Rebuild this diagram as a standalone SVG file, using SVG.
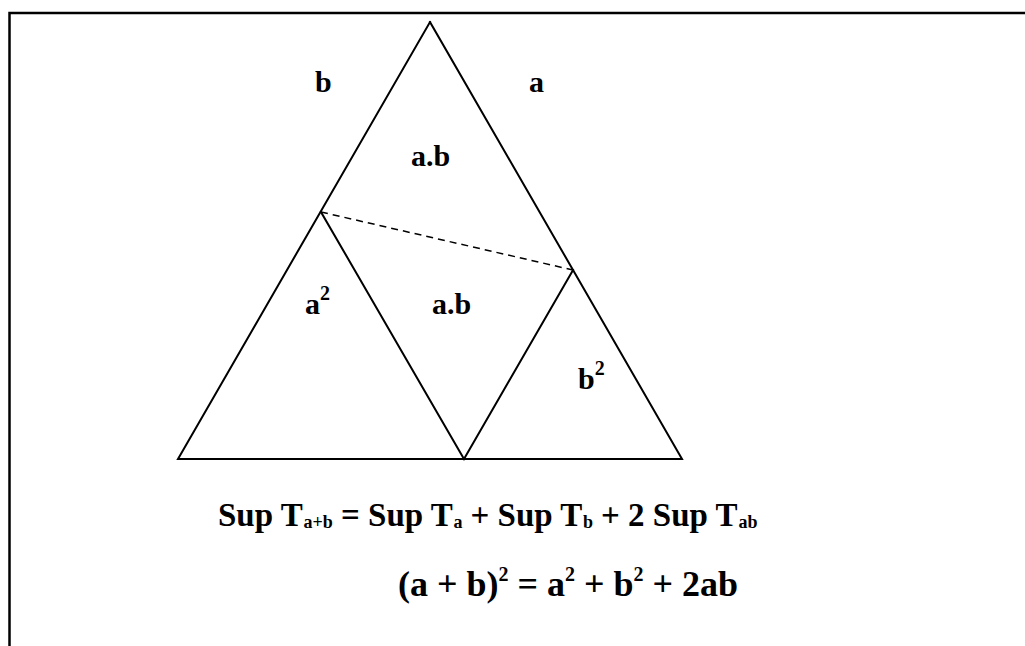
<svg xmlns="http://www.w3.org/2000/svg" width="1025" height="646" viewBox="0 0 1025 646">
<style>
.ln{stroke:#000;stroke-width:2;fill:none;stroke-linecap:square}
.t{font-family:"Liberation Serif","Times New Roman",serif;font-weight:bold;fill:#000}
.lbl{font-size:30px}
.eq{font-size:33px}
.eq2{font-size:36px}
.sub{font-size:18px}
.sup{font-size:20px}
</style>
<rect width="1025" height="646" fill="#fff"/>
<path id="frame" d="M9.5 646 V13 H1025" stroke="#000" stroke-width="2.5" fill="none"/>
<g id="connectors">
<path class="ln" d="M430 22 L178 459 L464 459"/>
<path class="ln" d="M430 22 L682 459 L464 459"/>
<path class="ln" d="M321 212 L464 459 L573 270"/>
<path d="M321 212 L573 270" stroke="#000" stroke-width="1.5" stroke-dasharray="7 5" fill="none"/>
</g>
<g id="label-b"><text class="t lbl" x="315" y="92">b</text></g>
<g id="label-a"><text class="t lbl" x="529" y="92">a</text></g>
<g id="label-ab-top"><text class="t lbl" x="411" y="166">a.b</text></g>
<g id="label-a2"><text class="t lbl" x="305" y="314">a<tspan class="sup" dy="-14">2</tspan></text></g>
<g id="label-ab-mid"><text class="t lbl" x="432" y="314">a.b</text></g>
<g id="label-b2"><text class="t lbl" x="578" y="389">b<tspan class="sup" dy="-14">2</tspan></text></g>
<g id="eq1">
<text class="t eq" x="218" y="526">Sup T</text>
<text class="t sub" x="303.5" y="528">a+b</text>
<text class="t eq" x="341" y="526">= Sup T</text>
<text class="t sub" x="453.5" y="528">a</text>
<text class="t eq" x="470.5" y="526">+ Sup T</text>
<text class="t sub" x="583" y="528">b</text>
<text class="t eq" x="601" y="526">+ 2 Sup T</text>
<text class="t sub" x="738.5" y="528">ab</text>
</g>
<g id="eq2"><text class="t eq2" x="398" y="596">(a + b)<tspan class="sup" dy="-15">2</tspan><tspan dy="15"> = a</tspan><tspan class="sup" dy="-15">2</tspan><tspan dy="15"> + b</tspan><tspan class="sup" dy="-15">2</tspan><tspan dy="15"> + 2ab</tspan></text></g>
</svg>
